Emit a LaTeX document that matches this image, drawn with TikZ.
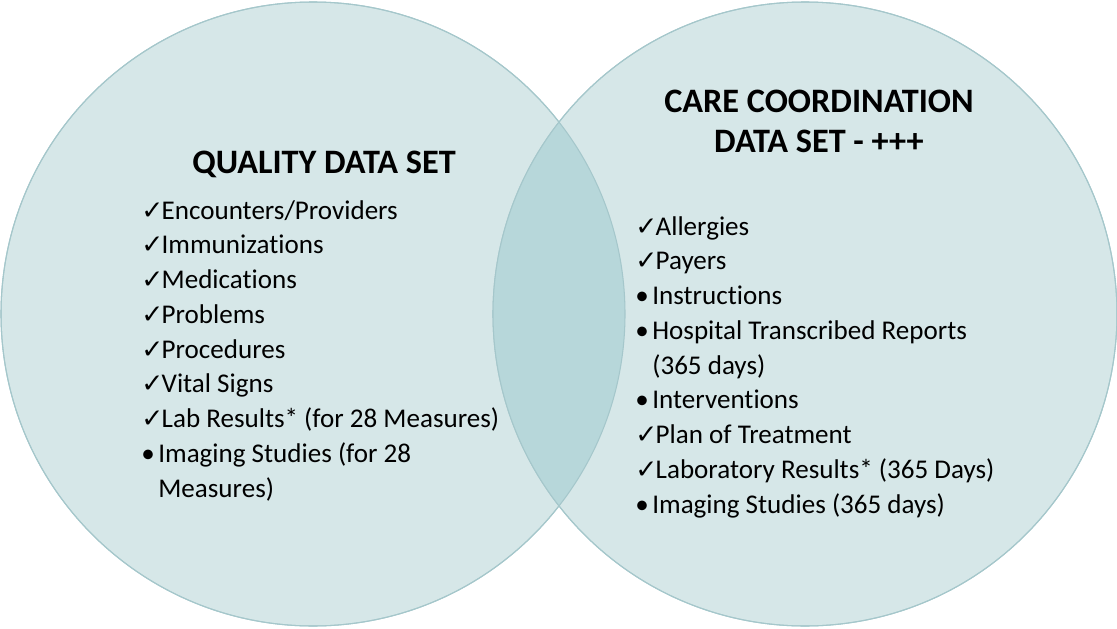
\documentclass[tikz,border=0pt]{standalone}
\usepackage{fontspec}
\setmainfont{Carlito}[Ligatures=NoCommon]
\newfontfamily\markfont{DejaVu Sans}
\usetikzlibrary{positioning}
\definecolor{venfill}{RGB}{214,231,232}
\definecolor{venlens}{RGB}{183,215,218}
\definecolor{venedge}{RGB}{165,199,203}
\newcommand{\chk}{{\markfont\fontsize{15}{15}\selectfont ✓}}
\newcommand{\bul}{•}
\tikzset{
  venn/.style = {fill=venfill, draw=venedge, line width=0.6pt},
  lens/.style = {fill=venlens},
  settitle/.style = {font=\fontsize{19.5}{22.7}\selectfont\bfseries, align=center, inner sep=0pt},
  setlist/.style = {font=\fontsize{15.4}{19.8}\selectfont, inner sep=0pt, anchor=base west}
}

\begin{document}
\begin{tikzpicture}[x=0.02cm, y=-0.02cm]
\useasboundingbox (0,0) rectangle (1117,629);
% CIRCLES
\fill[venn] (313,314) circle [radius=312];
\fill[venn] (805,314) circle [radius=312];
\begin{scope}
  \clip (313,314) circle [radius=312];
  \fill[lens] (805,314) circle [radius=312];
\end{scope}
\draw[venedge, line width=0.6pt] (313,314) circle [radius=312];
\draw[venedge, line width=0.6pt] (805,314) circle [radius=312];
% TITLES
\node[settitle, anchor=base] (Quality-Title) at (324,173) {QUALITY DATA SET};
\node[settitle, anchor=base] (Care-Title) at (819,152) {CARE COORDINATION\\DATA SET - +++};
% LISTS
\node[setlist] (Quality-List) at (141,219) {%
  \begin{tabular}[t]{@{}l@{\hspace{-1pt}}l@{}}
  \chk & Encounters/Providers\\
  \chk & Immunizations\\
  \chk & Medications\\
  \chk & Problems\\
  \chk & Procedures\\
  \chk & Vital Signs\\
  \chk & Lab Results* (for 28 Measures)\\
  \multicolumn{2}{@{}l@{}}{\bul\hspace{2pt}Imaging Studies (for 28}\\
  \multicolumn{2}{@{}l@{}}{\hphantom{\bul}\hspace{2pt}Measures)}
  \end{tabular}};
\node[setlist] (Care-List) at (635,235) {%
  \begin{tabular}[t]{@{}l@{\hspace{-1pt}}l@{}}
  \chk & Allergies\\
  \chk & Payers\\
  \multicolumn{2}{@{}l@{}}{\bul\hspace{2pt}Instructions}\\
  \multicolumn{2}{@{}l@{}}{\bul\hspace{2pt}Hospital Transcribed Reports}\\
  \multicolumn{2}{@{}l@{}}{\hphantom{\bul}\hspace{2pt}(365 days)}\\
  \multicolumn{2}{@{}l@{}}{\bul\hspace{2pt}Interventions}\\
  \chk & Plan of Treatment\\
  \chk & Laboratory Results* (365 Days)\\
  \multicolumn{2}{@{}l@{}}{\bul\hspace{2pt}Imaging Studies (365 days)}
  \end{tabular}};
\end{tikzpicture}
\end{document}
